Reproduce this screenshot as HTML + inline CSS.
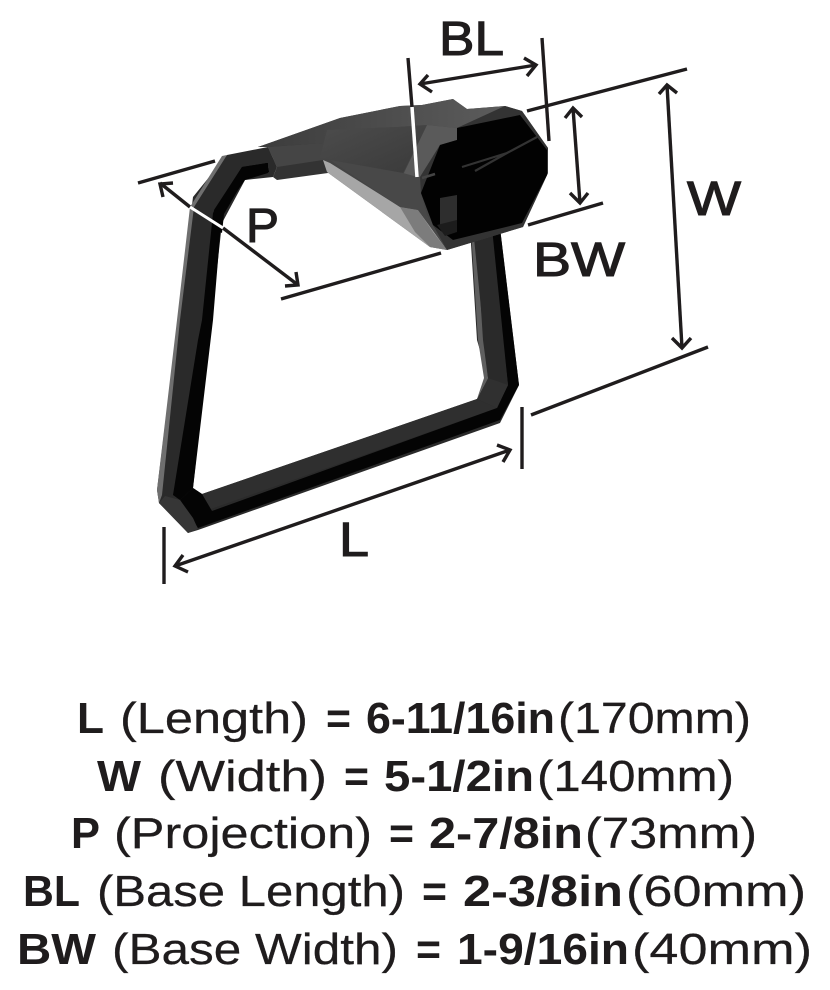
<!DOCTYPE html>
<html><head><meta charset="utf-8"><style>
html,body{margin:0;padding:0;background:#fff;width:830px;height:990px;overflow:hidden}
svg{display:block}
text{font-family:"Liberation Sans",sans-serif;fill:#1f1c1d;font-size:44px;stroke:#1f1c1d;stroke-width:.25}
.b{font-weight:bold;stroke-width:0}
.l{font-size:48px;stroke-width:1.1}
</style></head><body>
<svg width="830" height="990" viewBox="0 0 830 990" xmlns="http://www.w3.org/2000/svg">
<defs>
<linearGradient id="top" x1="0" y1="0" x2="1" y2="0"><stop offset="0" stop-color="#3c3c3c"/><stop offset="1" stop-color="#5c5c5c"/></linearGradient>
<linearGradient id="pan" x1="0" y1="0" x2="1" y2="1"><stop offset="0" stop-color="#4c4c4c"/><stop offset="1" stop-color="#3a3a3a"/></linearGradient>
</defs>
<!-- ring -->
<polygon points="227,155 193,197 157,490 159,503 188,533 198,530 500,423 519,385 500,228 470,228 477,340 488,378 477,399 202,494 193,488 222,223 245,180 273,177 277,167 268,147" fill="#2a2a2a"/>
<polygon points="190,207 177,320 157,490 159,503 162,495 180,320 194,207 227,155 222,156" fill="#6f6f6f"/>
<polygon points="222,212 213,320 193,488 180,500 173,495 198,340 202,320 213,213 242,167 268,163 268,173 245,180" fill="#040404"/>
<polygon points="242,167 267,163 269,172 245,178 224,214 222,233 212,228 214,210" fill="#040404"/>
<polygon points="202,494 477,399 497,408 208,510 193,488" fill="#2f2f2f"/>
<polygon points="193,488 202,494 212,511 497,408 508,385 519,385 500,420 198,528 180,500" fill="#040404"/>
<polygon points="159,503 188,533 198,529 193,518 180,500 165,496" fill="#363636"/>
<polygon points="477,399 488,378 504,340 508,385 497,408" fill="#303030"/>
<polygon points="488,378 483,340 476,230 471,230 478,340 484,378 477,399" fill="#5f5f5f"/>
<polygon points="490,228 500,228 519,385 508,385" fill="#040404"/>
<polygon points="473,228 492,228 508,385 488,378" fill="#2a2a2a"/>
<!-- neck -->
<polygon points="258,147 323,128 330,150 328,173 277,180 273,177 277,167 268,147" fill="#333"/>
<polygon points="268,147 323,143 323,160 277,167" fill="#454545"/>
<polygon points="267,163 269,172 245,178 246,168" fill="#040404"/>
<!-- body -->
<polygon points="258,147 340,118 400,106 422,105 453,99 467,109 505,106 522,111 548,148 548,173 523,227 447,250 430,247 327,172 323,160 323,143" fill="#444"/>
<polygon points="258,147 340,118 400,106 422,105 453,99 467,109 505,106 457,128 427,125 397,127 327,130 323,143 268,147" fill="url(#top)"/>
<polygon points="327,130 397,127 427,125 403,173 330,160 320,158" fill="url(#pan)"/>
<polygon points="427,125 457,128 457,140 440,145 420,177 402,177" fill="#5a5a5a"/>
<polygon points="323,160 330,163 400,207 418,210 447,250 430,247 327,172" fill="#a6a6a6"/>
<polygon points="400,207 418,210 433,232 447,250 430,247 415,232" fill="#7c7c7c"/>
<polygon points="330,160 403,173 421,178 421,193 427,215 433,225 447,250 418,210 400,207" fill="#484848"/>
<!-- end face -->
<polygon points="457,128 505,106 522,111 548,148 548,173 523,227 447,250 433,225 421,193 420,177 440,145 457,140" fill="#333"/>
<polygon points="457,128 520,115 547,150 547,175 522,223 453,240 433,225 421,193 440,145 457,140" fill="#020202"/>
<polygon points="440,198 457,195 457,222 440,225" fill="#2e2e2e"/>
<polygon points="437,225 457,220 457,232 445,236" fill="#1c1c1c"/>
<path d="M462,167 L507,153 M475,171 L507,153 L537,137" stroke="#333" stroke-width="2.2" fill="none"/>
<path d="M422,178 L435,174" stroke="#444" stroke-width="2.5"/>
<!-- dimension lines -->
<g stroke="#1f1c1d" stroke-width="3.4" fill="none">
<path d="M138,183 L215,161"/>
<path d="M160,183 L190,207"/>
<path d="M223,228 L298,285"/>
<path d="M173,183 L160,184 L163,197 M296,272 L298,285 L285,286"/>
<path d="M281,299 L441,253"/>
<path d="M408,58 L412,107"/>
<path d="M542,38 L549,141"/>
<path d="M420,84 L536,65"/>
<path d="M428,75 L420,84 L432,92 M524,58 L536,65 L527,76"/>
<path d="M527,111 L687,69"/>
<path d="M573,108 L580,203"/>
<path d="M565,118 L573,108 L582,117 M570,193 L580,203 L588,193"/>
<path d="M528,225 L603,203"/>
<path d="M667,85 L682,348"/>
<path d="M659,94 L667,85 L677,93 M672,338 L682,348 L691,338"/>
<path d="M531,415 L708,347"/>
<path d="M522,407 L522,469"/>
<path d="M164,527 L164,584"/>
<path d="M175,566 L510,450"/>
<path d="M183,555 L175,566 L188,572 M497,445 L510,450 L503,462"/>
</g>
<path d="M190,207 L223,228" stroke="#fff" stroke-width="3"/>
<path d="M412,107 L417,177" stroke="#fff" stroke-width="3.5"/>
<!-- labels -->
<text class="l" x="439" y="55" textLength="65" lengthAdjust="spacingAndGlyphs">BL</text>
<text class="l" x="687" y="215" textLength="54" lengthAdjust="spacingAndGlyphs">W</text>
<text class="l" x="533" y="276" textLength="92" lengthAdjust="spacingAndGlyphs">BW</text>
<text class="l" x="246" y="242" textLength="33" lengthAdjust="spacingAndGlyphs">P</text>
<text class="l" x="339" y="556" textLength="30" lengthAdjust="spacingAndGlyphs">L</text>
<!-- line 1 -->
<text class="b" x="77" y="733" textLength="27" lengthAdjust="spacingAndGlyphs">L</text>
<text x="120" y="733" textLength="188" lengthAdjust="spacingAndGlyphs">(Length)</text>
<text class="b" x="326" y="733" textLength="25" lengthAdjust="spacingAndGlyphs">=</text>
<text class="b" x="366" y="733" textLength="189" lengthAdjust="spacingAndGlyphs">6-11/16in</text>
<text x="558" y="733" textLength="193" lengthAdjust="spacingAndGlyphs">(170mm)</text>
<!-- line 2 -->
<text class="b" x="97" y="791" textLength="44" lengthAdjust="spacingAndGlyphs">W</text>
<text x="158" y="791" textLength="169" lengthAdjust="spacingAndGlyphs">(Width)</text>
<text class="b" x="344" y="791" textLength="25" lengthAdjust="spacingAndGlyphs">=</text>
<text class="b" x="384" y="791" textLength="150" lengthAdjust="spacingAndGlyphs">5-1/2in</text>
<text x="537" y="791" textLength="197" lengthAdjust="spacingAndGlyphs">(140mm)</text>
<!-- line 3 -->
<text class="b" x="71" y="848" textLength="29" lengthAdjust="spacingAndGlyphs">P</text>
<text x="114" y="848" textLength="258" lengthAdjust="spacingAndGlyphs">(Projection)</text>
<text class="b" x="389" y="848" textLength="25" lengthAdjust="spacingAndGlyphs">=</text>
<text class="b" x="429" y="848" textLength="154" lengthAdjust="spacingAndGlyphs">2-7/8in</text>
<text x="585" y="848" textLength="172" lengthAdjust="spacingAndGlyphs">(73mm)</text>
<!-- line 4 -->
<text class="b" x="23" y="906" textLength="57" lengthAdjust="spacingAndGlyphs">BL</text>
<text x="97" y="906" textLength="308" lengthAdjust="spacingAndGlyphs">(Base Length)</text>
<text class="b" x="422" y="906" textLength="25" lengthAdjust="spacingAndGlyphs">=</text>
<text class="b" x="463" y="906" textLength="160" lengthAdjust="spacingAndGlyphs">2-3/8in</text>
<text x="626" y="906" textLength="180" lengthAdjust="spacingAndGlyphs">(60mm)</text>
<!-- line 5 -->
<text class="b" x="17" y="964" textLength="79" lengthAdjust="spacingAndGlyphs">BW</text>
<text x="112" y="964" textLength="286" lengthAdjust="spacingAndGlyphs">(Base Width)</text>
<text class="b" x="416" y="964" textLength="25" lengthAdjust="spacingAndGlyphs">=</text>
<text class="b" x="457" y="964" textLength="172" lengthAdjust="spacingAndGlyphs">1-9/16in</text>
<text x="632" y="964" textLength="180" lengthAdjust="spacingAndGlyphs">(40mm)</text>
</svg>
</body></html>
